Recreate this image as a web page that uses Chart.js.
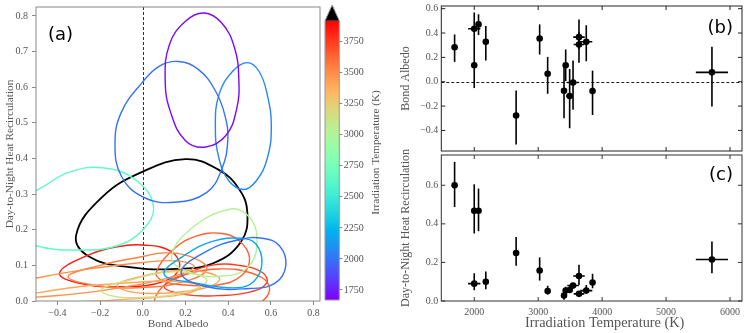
<!DOCTYPE html>
<html>
<head>
<meta charset="utf-8">
<script src="https://cdn.jsdelivr.net/npm/chart.js@4.4.1/dist/chart.umd.min.js"></script>
<style>
  html, body { margin: 0; padding: 0; background: #fff; }
  #wrap { position: relative; width: 747px; height: 333px; }
  #wrap canvas { position: absolute; left: 0; top: 0; }
</style>
</head>
<body>
<div id="wrap">
  <canvas id="panelA" width="747" height="333"></canvas>
  <canvas id="cbar" width="747" height="333"></canvas>
  <canvas id="panelB" width="747" height="333"></canvas>
  <canvas id="panelC" width="747" height="333"></canvas>
</div>
<script>
// ---- planet values (panels b and c) ----
const tirr = [1693, 2000, 2000, 2067, 2181, 2655, 3023, 3148, 3404, 3430, 3492, 3545, 3638, 3638, 3752, 3850, 5717]
const tirrErr = [0, 0, 96, 0, 0, 0, 0, 0, 0, 0, 52, 90, 90, 83, 94, 0, 252]
const albedo = [0.283, 0.135, 0.435, 0.471, 0.328, -0.278, 0.355, 0.066, -0.074, 0.135, -0.118, -0.006, 0.366, 0.306, 0.328, -0.077, 0.077]
const albedoUp = [0.105, 0.13, 0.133, 0.083, 0.129, 0.206, 0.116, 0.138, 0.2, 0.13, 0.223, 0.18, 0.146, 0.1, 0.135, 0.168, 0.21]
const albedoDown = [0.12, 0.187, 0.175, 0.088, 0.154, 0.237, 0.132, 0.165, 0.226, 0.13, 0.265, 0.225, 0.1, 0.151, 0.16, 0.196, 0.281]
const recirc = [0.60, 0.468, 0.09, 0.468, 0.10, 0.249, 0.158, 0.052, 0.028, 0.054, 0.057, 0.08, 0.13, 0.037, 0.054, 0.096, 0.215]
const recircUp = [0.121, 0.137, 0.054, 0.115, 0.053, 0.083, 0.068, 0.027, 0.013, 0.02, 0.021, 0.015, 0.058, 0.012, 0.029, 0.045, 0.094]
const recircDown = [0.113, 0.118, 0.034, 0.106, 0.039, 0.066, 0.052, 0.019, 0.021, 0.015, 0.015, 0.015, 0.047, 0.012, 0.014, 0.03, 0.071]

// ---- 1-sigma contours (panel a), points read around each loop ----
const contourTemp = [1693, 2000, 2000, 2067, 2181, 2655, 3023, 3148, 3404, 3430, 3492, 3545, 3638, 3638, 3752, 3850, 5717]
const contourPts = [
  [[0.287, 0.808], [0.37, 0.78], [0.43, 0.71], [0.45, 0.62], [0.44, 0.54], [0.39, 0.465], [0.295, 0.432], [0.2, 0.45], [0.13, 0.53], [0.105, 0.62], [0.125, 0.72], [0.2, 0.785]],
  [[0.167, 0.672], [0.26, 0.65], [0.34, 0.59], [0.385, 0.52], [0.398, 0.45], [0.37, 0.37], [0.3, 0.305], [0.15, 0.277], [0.0, 0.292], [-0.1, 0.35], [-0.13, 0.44], [-0.1, 0.53], [0.0, 0.615], [0.08, 0.66]],
  [[0.56, 0.176], [0.64, 0.155], [0.67, 0.1], [0.62, 0.05], [0.5, 0.035], [0.3, 0.04], [0.18, 0.08], [0.3, 0.14], [0.45, 0.172]],
  [[0.49, 0.669], [0.545, 0.644], [0.583, 0.579], [0.602, 0.49], [0.583, 0.40], [0.53, 0.336], [0.472, 0.313], [0.405, 0.336], [0.357, 0.40], [0.34, 0.49], [0.357, 0.579], [0.42, 0.644]],
  [[0.46, 0.176], [0.53, 0.16], [0.558, 0.105], [0.52, 0.055], [0.44, 0.037], [0.25, 0.05], [0.1, 0.075], [0.2, 0.13], [0.33, 0.168]],
  [[-0.19, 0.374], [-0.03, 0.338], [0.05, 0.265], [0.0, 0.2], [-0.12, 0.155], [-0.3, 0.143], [-0.5, 0.155], [-0.65, 0.2], [-0.68, 0.27], [-0.5, 0.31], [-0.35, 0.36]],
  [[0.41, 0.258], [0.5, 0.235], [0.535, 0.175], [0.5, 0.1], [0.38, 0.07], [0.2, 0.085], [0.135, 0.125], [0.22, 0.2]],
  [[-0.195, 0.033], [-0.05, 0.06], [0.1, 0.08], [0.25, 0.075], [0.3, 0.055], [0.2, 0.025], [0.0, 0.01], [-0.15, 0.015]],
  [[-0.62, 0.005], [-0.5, 0.022], [-0.3, 0.04], [-0.05, 0.052], [0.15, 0.055], [0.27, 0.04], [0.18, 0.018], [-0.05, 0.006], [-0.3, -0.002], [-0.55, -0.005]],
  [[-0.12, 0.045], [0.0, 0.07], [0.15, 0.085], [0.3, 0.08], [0.36, 0.06], [0.28, 0.035], [0.1, 0.022], [-0.05, 0.025]],
  [[-0.7, 0.035], [-0.5, 0.064], [-0.25, 0.09], [0.0, 0.108], [0.17, 0.112], [0.24, 0.095], [0.12, 0.065], [-0.1, 0.038], [-0.35, 0.018], [-0.6, 0.012]],
  [[-0.35, 0.068], [-0.2, 0.1], [0.0, 0.125], [0.1, 0.135], [0.22, 0.125], [0.3, 0.09], [0.2, 0.055], [0.0, 0.038], [-0.2, 0.042]],
  [[0.063, 0.08], [0.15, 0.148], [0.25, 0.182], [0.36, 0.19], [0.45, 0.17], [0.5, 0.12], [0.46, 0.07], [0.35, 0.045], [0.2, 0.045], [0.1, 0.055]],
  [[0.065, -0.01], [0.1, 0.045], [0.22, 0.078], [0.36, 0.09], [0.5, 0.08], [0.59, 0.045], [0.56, 0.0], [0.35, -0.04]],
  [[0.1, 0.04], [0.2, 0.075], [0.32, 0.1], [0.45, 0.1], [0.56, 0.08], [0.58, 0.05], [0.5, 0.025], [0.35, 0.015], [0.2, 0.018]],
  [[-0.39, 0.078], [-0.27, 0.125], [-0.12, 0.152], [0.0, 0.157], [0.13, 0.14], [0.172, 0.095], [0.1, 0.055], [-0.1, 0.04], [-0.3, 0.05]],
  [[0.2, 0.398], [0.35, 0.37], [0.45, 0.315], [0.49, 0.246], [0.46, 0.166], [0.33, 0.106], [0.157, 0.09], [-0.062, 0.095], [-0.25, 0.124], [-0.312, 0.185], [-0.188, 0.293], [0.0, 0.363]]
]

// ---- ticks ----
const ticksAX = [-0.4, -0.2, 0.0, 0.2, 0.4, 0.6, 0.8]
const ticksAY = [0.0, 0.1, 0.2, 0.3, 0.4, 0.5, 0.6, 0.7, 0.8]
const ticksBY = [-0.4, -0.2, 0.0, 0.2, 0.4, 0.6]
const ticksCY = [0.0, 0.2, 0.4, 0.6]
const ticksT = [2000, 3000, 4000, 5000, 6000]
const ticksCbar = [1750, 2000, 2250, 2500, 2750, 3000, 3250, 3500, 3750]

// colour scale limits
const cbMin = 1669
const cbMax = 3919

const SERIF = "'Liberation Serif', 'Times New Roman', serif"
const TEXT = '#555'

Chart.defaults.font.family = SERIF
Chart.defaults.color = TEXT

// matplotlib "rainbow" colormap, black above the top of the bar
function rainbow(t) {
  if (t > cbMax) return '#000'
  const x = Math.min(1, Math.max(0, (t - cbMin) / (cbMax - cbMin)))
  const r = Math.min(1, Math.abs(2 * x - 0.5))
  const g = Math.sin(Math.PI * x)
  const b = Math.cos(Math.PI * x / 2)
  return `rgb(${Math.round(r * 255)}, ${Math.round(g * 255)}, ${Math.round(b * 255)})`
}

const fmt1 = v => (v < 0 ? '\u2212' : '') + Math.abs(v).toFixed(1)
const fmtInt = v => String(Math.round(v))
const setTicks = arr => scale => { scale.ticks = arr.map(v => ({ value: v })) }
const fixSize = (w, h) => scale => {
  if (w != null) scale.width = w
  if (h != null) scale.height = h
  scale.paddingLeft = 0
  scale.paddingRight = 0
  scale.paddingTop = 0
  scale.paddingBottom = 0
}

// contours are closed loops: let the line element wrap round
const closedLoops = {
  id: 'closedLoops',
  afterDatasetUpdate(chart, args) {
    const line = args.meta.dataset
    if (!line) return
    line._loop = true
    line._fullLoop = true
    line._pointsUpdated = false
    delete line._segments
    line._path = undefined
  }
}

function framePlugin(color, inward) {
  return {
    id: 'frame',
    afterDraw(chart) {
      const { ctx, chartArea: a, scales } = chart
      ctx.save()
      ctx.strokeStyle = color
      ctx.lineWidth = 1
      ctx.strokeRect(a.left, a.top, a.right - a.left, a.bottom - a.top)
      if (inward) {
        ctx.beginPath()
        scales.x.ticks.forEach(t => {
          const px = scales.x.getPixelForValue(t.value)
          ctx.moveTo(px, a.bottom); ctx.lineTo(px, a.bottom - 4)
          ctx.moveTo(px, a.top); ctx.lineTo(px, a.top + 4)
        })
        scales.y.ticks.forEach(t => {
          const py = scales.y.getPixelForValue(t.value)
          ctx.moveTo(a.left, py); ctx.lineTo(a.left + 4, py)
          ctx.moveTo(a.right, py); ctx.lineTo(a.right - 4, py)
        })
        ctx.stroke()
      }
      ctx.restore()
    }
  }
}

function zeroLine(axis, color) {
  return {
    id: 'zeroLine',
    beforeDatasetsDraw(chart) {
      const { ctx, chartArea: a, scales } = chart
      ctx.save()
      ctx.strokeStyle = color
      ctx.lineWidth = 1
      ctx.setLineDash([3, 2])
      ctx.beginPath()
      if (axis === 'x') {
        const px = Math.round(scales.x.getPixelForValue(0)) + 0.5
        ctx.moveTo(px, a.top); ctx.lineTo(px, a.bottom)
      } else {
        const py = Math.round(scales.y.getPixelForValue(0)) + 0.5
        ctx.moveTo(a.left, py); ctx.lineTo(a.right, py)
      }
      ctx.stroke()
      ctx.restore()
    }
  }
}

function panelLabel(text, side, dx, dy) {
  return {
    id: 'panelLabel',
    afterDraw(chart) {
      const { ctx, chartArea: a } = chart
      ctx.save()
      ctx.font = "18px 'DejaVu Sans', sans-serif"
      ctx.fillStyle = '#000'
      ctx.textBaseline = 'middle'
      ctx.textAlign = side
      ctx.fillText(text, side === 'left' ? a.left + dx : a.right - dx, a.top + dy)
      ctx.restore()
    }
  }
}

// x-axis title of panel (c), which sits a little right of the axis centre
function bottomTitle(text, size, shift, y) {
  return {
    id: 'bottomTitle',
    afterDraw(chart) {
      const { ctx, chartArea: a } = chart
      ctx.save()
      ctx.font = `${size}px ${SERIF}`
      ctx.fillStyle = TEXT
      ctx.textAlign = 'center'
      ctx.textBaseline = 'middle'
      ctx.fillText(text, (a.left + a.right) / 2 + shift, y)
      ctx.restore()
    }
  }
}

function errorBars(yVals, yUp, yDown) {
  return {
    id: 'errorBars',
    beforeDatasetsDraw(chart) {
      const { ctx, scales: { x, y } } = chart
      ctx.save()
      ctx.strokeStyle = '#000'
      ctx.lineWidth = 1.6
      tirr.forEach((t, i) => {
        const px = x.getPixelForValue(t)
        const py = y.getPixelForValue(yVals[i])
        ctx.beginPath()
        ctx.moveTo(px, y.getPixelForValue(yVals[i] + yUp[i]))
        ctx.lineTo(px, y.getPixelForValue(yVals[i] - yDown[i]))
        if (tirrErr[i]) {
          ctx.moveTo(x.getPixelForValue(t - tirrErr[i]), py)
          ctx.lineTo(x.getPixelForValue(t + tirrErr[i]), py)
        }
        ctx.stroke()
      })
      ctx.restore()
    }
  }
}

// ---- panel (a): contours ----
new Chart(document.getElementById('panelA'), {
  type: 'line',
  data: {
    datasets: contourPts.map((pts, i) => ({
      data: pts.map(p => ({ x: p[0], y: p[1] })),
      borderColor: rainbow(contourTemp[i]),
      borderWidth: contourTemp[i] > cbMax ? 1.8 : 1.4,
      pointRadius: 0,
      tension: 0.42,
      fill: false,
      clip: 0
    }))
  },
  options: {
    responsive: false,
    animation: false,
    events: [],
    layout: { padding: { left: 3, top: 7, right: 427, bottom: 2 }, autoPadding: false },
    elements: { line: { capBezierPoints: false } },
    plugins: { legend: { display: false }, tooltip: { enabled: false } },
    scales: {
      x: {
        type: 'linear',
        min: -0.5,
        max: 0.83,
        afterBuildTicks: setTicks(ticksAX),
        afterFit: fixSize(null, 30),
        border: { display: false },
        grid: { drawOnChartArea: false, drawTicks: true, tickLength: 4, color: '#888' },
        ticks: { autoSkip: false, maxRotation: 0, padding: 2, font: { size: 10 }, callback: fmt1 },
        title: { display: true, text: 'Bond Albedo', padding: 0, font: { size: 11.3 } }
      },
      y: {
        type: 'linear',
        min: 0,
        max: 0.825,
        afterBuildTicks: setTicks(ticksAY),
        afterFit: fixSize(33, null),
        border: { display: false },
        grid: { drawOnChartArea: false, drawTicks: true, tickLength: 4, color: '#888' },
        ticks: { autoSkip: false, padding: 4, font: { size: 10 }, callback: fmt1 },
        title: { display: true, text: 'Day-to-Night Heat Recirculation', padding: 0, font: { size: 11.3 } }
      }
    }
  },
  plugins: [closedLoops, zeroLine('x', '#333'), framePlugin('#888', false), panelLabel('(a)', 'left', 12, 28)]
})

// ---- colour bar ----
new Chart(document.getElementById('cbar'), {
  type: 'bar',
  data: {
    labels: [''],
    datasets: [{
      data: [[cbMin, cbMax]],
      barPercentage: 1,
      categoryPercentage: 1,
      borderWidth: 0,
      backgroundColor(context) {
        const { chart } = context
        const area = chart.chartArea
        if (!area || !isFinite(area.top) || !isFinite(area.bottom)) return '#888'
        const grad = chart.ctx.createLinearGradient(0, area.bottom, 0, area.top)
        for (let i = 0; i <= 40; i++) {
          grad.addColorStop(i / 40, rainbow(cbMin + (cbMax - cbMin) * i / 40))
        }
        return grad
      }
    }]
  },
  options: {
    responsive: false,
    animation: false,
    events: [],
    layout: { padding: { left: 325, top: 20.7, right: 377.7, bottom: 33 }, autoPadding: false },
    plugins: { legend: { display: false }, tooltip: { enabled: false } },
    scales: {
      x: { display: false },
      y: {
        position: 'right',
        min: cbMin,
        max: cbMax,
        afterBuildTicks: setTicks(ticksCbar),
        afterFit: fixSize(30, null),
        border: { display: false },
        grid: { drawOnChartArea: false, drawTicks: true, tickLength: 3, color: '#888' },
        ticks: { autoSkip: false, padding: 1.5, font: { size: 10 }, callback: fmtInt }
      }
    }
  },
  plugins: [{
    id: 'cbarDecor',
    afterDraw(chart) {
      const { ctx, chartArea: a } = chart
      const mid = (a.left + a.right) / 2
      const tip = a.top - 15.7
      ctx.save()
      // over-range triangle
      ctx.fillStyle = '#000'
      ctx.beginPath()
      ctx.moveTo(a.left, a.top); ctx.lineTo(mid, tip); ctx.lineTo(a.right, a.top)
      ctx.closePath()
      ctx.fill()
      // outline
      ctx.strokeStyle = '#999'
      ctx.lineWidth = 1
      ctx.beginPath()
      ctx.moveTo(a.left, a.bottom); ctx.lineTo(a.left, a.top); ctx.lineTo(mid, tip)
      ctx.lineTo(a.right, a.top); ctx.lineTo(a.right, a.bottom); ctx.closePath()
      ctx.stroke()
      // label
      ctx.translate(376, (tip + a.bottom) / 2)
      ctx.rotate(-Math.PI / 2)
      ctx.font = `11.2px ${SERIF}`
      ctx.fillStyle = TEXT
      ctx.textAlign = 'center'
      ctx.textBaseline = 'middle'
      ctx.fillText('Irradiation Temperature (K)', 0, 0)
      ctx.restore()
    }
  }]
})

// ---- panel (b): Bond albedo vs irradiation temperature ----
new Chart(document.getElementById('panelB'), {
  type: 'scatter',
  data: {
    datasets: [{
      data: tirr.map((t, i) => ({ x: t, y: albedo[i] })),
      pointRadius: 3.3,
      pointBorderWidth: 0,
      backgroundColor: '#000',
      clip: false
    }]
  },
  options: {
    responsive: false,
    animation: false,
    events: [],
    layout: { padding: { left: 398.3, top: 6, right: 5, bottom: 182 }, autoPadding: false },
    plugins: { legend: { display: false }, tooltip: { enabled: false } },
    scales: {
      x: {
        type: 'linear',
        min: 1485,
        max: 6187,
        afterBuildTicks: setTicks(ticksT),
        afterFit: fixSize(null, 0),
        border: { display: false },
        grid: { display: false, drawTicks: false, tickLength: 0 },
        ticks: { display: false }
      },
      y: {
        type: 'linear',
        min: -0.569,
        max: 0.622,
        afterBuildTicks: setTicks(ticksBY),
        afterFit: fixSize(43, null),
        border: { display: false },
        grid: { display: false, drawTicks: false, tickLength: 0 },
        ticks: { autoSkip: false, padding: 3, font: { size: 10 }, callback: fmt1 },
        title: { display: true, text: 'Bond Albedo', padding: 0, font: { size: 12 } }
      }
    }
  },
  plugins: [zeroLine('y', '#222'), errorBars(albedo, albedoUp, albedoDown), framePlugin('#222', true), panelLabel('(b)', 'right', 9, 22.5)]
})

// ---- panel (c): heat recirculation vs irradiation temperature ----
new Chart(document.getElementById('panelC'), {
  type: 'scatter',
  data: {
    datasets: [{
      data: tirr.map((t, i) => ({ x: t, y: recirc[i] })),
      pointRadius: 3.3,
      pointBorderWidth: 0,
      backgroundColor: '#000',
      clip: false
    }]
  },
  options: {
    responsive: false,
    animation: false,
    events: [],
    layout: { padding: { left: 398.3, top: 155, right: 5, bottom: 2 }, autoPadding: false },
    plugins: { legend: { display: false }, tooltip: { enabled: false } },
    scales: {
      x: {
        type: 'linear',
        min: 1485,
        max: 6187,
        afterBuildTicks: setTicks(ticksT),
        afterFit: fixSize(null, 30),
        border: { display: false },
        grid: { display: false, drawTicks: false, tickLength: 0 },
        ticks: { autoSkip: false, maxRotation: 0, padding: 5, font: { size: 10 }, callback: fmtInt }
      },
      y: {
        type: 'linear',
        min: 0,
        max: 0.757,
        afterBuildTicks: setTicks(ticksCY),
        afterFit: fixSize(43, null),
        border: { display: false },
        grid: { display: false, drawTicks: false, tickLength: 0 },
        ticks: { autoSkip: false, padding: 3, font: { size: 10 }, callback: fmt1 },
        title: { display: true, text: 'Day-to-Night Heat Recirculation', padding: 0, font: { size: 12 } }
      }
    }
  },
  plugins: [errorBars(recirc, recircUp, recircDown), framePlugin('#333', true), panelLabel('(c)', 'right', 9, 20.5),
    bottomTitle('Irradiation Temperature (K)', 14.3, 13, 323.5)]
})
</script>
</body>
</html>
